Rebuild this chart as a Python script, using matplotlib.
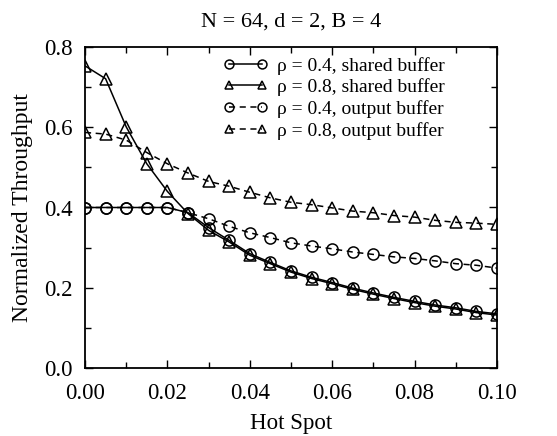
import numpy as np
import matplotlib
matplotlib.use("Agg")
import matplotlib.pyplot as plt
from matplotlib.ticker import MultipleLocator, FormatStrFormatter

# hot spot fraction, 21 points
hot_spot = [0.000, 0.005, 0.010, 0.015, 0.020, 0.025, 0.030, 0.035, 0.040, 0.045,
            0.050, 0.055, 0.060, 0.065, 0.070, 0.075, 0.080, 0.085, 0.090, 0.095, 0.100]

shared_04 = [0.400, 0.400, 0.400, 0.400, 0.400, 0.387, 0.350, 0.318, 0.285, 0.263,
             0.242, 0.226, 0.213, 0.199, 0.187, 0.176, 0.166, 0.157, 0.150, 0.141, 0.135]
shared_08 = [0.753, 0.721, 0.601, 0.509, 0.440, 0.385, 0.343, 0.314, 0.281, 0.260,
             0.239, 0.223, 0.210, 0.196, 0.184, 0.173, 0.163, 0.154, 0.147, 0.138, 0.132]
output_04 = [0.400, 0.400, 0.400, 0.400, 0.400, 0.387, 0.372, 0.353, 0.337, 0.325,
             0.312, 0.304, 0.297, 0.289, 0.283, 0.277, 0.273, 0.267, 0.260, 0.256, 0.249]
output_08 = [0.587, 0.583, 0.568, 0.537, 0.509, 0.486, 0.465, 0.453, 0.438, 0.424,
             0.413, 0.407, 0.399, 0.391, 0.387, 0.380, 0.376, 0.368, 0.363, 0.361, 0.358]

labels = ["ρ = 0.4, shared buffer",
          "ρ = 0.8, shared buffer",
          "ρ = 0.4, output buffer",
          "ρ = 0.8, output buffer"]

plt.rcParams['font.family'] = ['Liberation Serif', 'DejaVu Serif']

fig = plt.figure(figsize=(5.57, 4.36), dpi=100)
# axes box: x 85..497 px, y 47..368 px
ax = fig.add_axes([85 / 557, 68 / 436, 412 / 557, 321 / 436])

style = dict(color='black', lw=1.1, markersize=8, markerfacecolor='none',
             markeredgewidth=1.1)
dash = (0, (4, 3))
ax.plot(hot_spot, shared_04, marker='o', linestyle='-', label=labels[0], **style)
ax.plot(hot_spot, shared_08, marker='^', linestyle='-', label=labels[1], **style)
ax.plot(hot_spot, output_04, marker='o', linestyle=dash, label=labels[2], **style)
ax.plot(hot_spot, output_08, marker='^', linestyle=dash, label=labels[3], **style)

ax.set_xlim(0, 0.1)
ax.set_ylim(0, 0.8)
ax.xaxis.set_major_locator(MultipleLocator(0.02))
ax.xaxis.set_minor_locator(MultipleLocator(0.01))
ax.yaxis.set_major_locator(MultipleLocator(0.2))
ax.yaxis.set_minor_locator(MultipleLocator(0.1))
ax.xaxis.set_major_formatter(FormatStrFormatter('%.2f'))
ax.yaxis.set_major_formatter(FormatStrFormatter('%.1f'))
ax.tick_params(which='both', direction='in', top=True, right=True, labelsize=16.5)
ax.tick_params(which='major', length=6, width=1.0)
ax.tick_params(which='minor', length=4, width=1.0)
ax.tick_params(axis='x', which='major', pad=11)
ax.tick_params(axis='y', which='major', pad=9)
for s in ax.spines.values():
    s.set_linewidth(1.3)

ax.set_xlabel("Hot Spot", fontsize=16.5, labelpad=6)
ax.set_ylabel("Normalized Throughput", fontsize=17, labelpad=8)
ax.set_title("N = 64, d = 2, B = 4", fontsize=16, pad=15)

ax.legend(loc='upper left', bbox_to_anchor=(0.335, 0.97), frameon=False,
          fontsize=14, numpoints=2, markerscale=0.8, handlelength=2.3,
          handletextpad=0.5, labelspacing=0.2, borderpad=0, borderaxespad=0)

fig.savefig("out.png", dpi=100)
